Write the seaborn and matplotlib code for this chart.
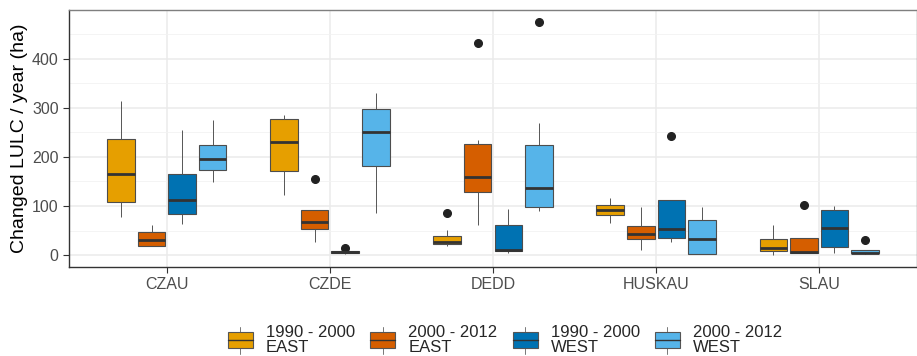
import numpy as np
import pandas as pd
import matplotlib
matplotlib.use("Agg")
import matplotlib.pyplot as plt
import seaborn as sns
from matplotlib.legend_handler import HandlerBase
from matplotlib.patches import Rectangle
from matplotlib.lines import Line2D

sites = ["CZAU", "CZDE", "DEDD", "HUSKAU", "SLAU"]
groups = ["1990 - 2000\nEAST", "2000 - 2012\nEAST", "1990 - 2000\nWEST", "2000 - 2012\nWEST"]
colors = ["#E69F00", "#D55E00", "#0072B2", "#56B4E9"]

# values per site, per group (ha / year)
czau_e90 = [78, 95, 109, 140, 165, 200, 237, 280, 314]
czau_e00 = [18, 18, 19, 25, 31, 40, 47, 55, 61]
czau_w90 = [64, 75, 84, 100, 113, 140, 165, 210, 255]
czau_w00 = [148, 160, 174, 185, 195, 210, 225, 250, 275]

czde_e90 = [122, 150, 172, 200, 231, 255, 277, 281, 285]
czde_e00 = [26, 45, 53, 60, 67, 80, 92, 92, 155]
czde_w90 = [3, 4, 5, 6, 7, 7, 8, 8, 14]
czde_w00 = [85, 140, 182, 220, 250, 280, 298, 315, 331]

dedd_e90 = [18, 20, 22, 25, 27, 33, 39, 51, 86]
dedd_e00 = [62, 100, 128, 145, 159, 200, 227, 235, 432]
dedd_w90 = [4, 6, 8, 9, 11, 40, 62, 80, 94]
dedd_w00 = [90, 95, 98, 120, 136, 180, 225, 270, 474]

huskau_e90 = [65, 75, 82, 88, 92.5, 97, 102, 110, 117]
huskau_e00 = [11, 25, 32, 38, 42.5, 50, 59, 80, 98.5]
huskau_w90 = [26, 30, 34, 45, 53, 90, 113, 113, 242]
huskau_w00 = [2, 2, 3, 15, 32, 50, 71.5, 85, 98.5]

slau_e90 = [1, 5, 8, 12, 15.5, 25, 32, 45, 61]
slau_e00 = [4, 4, 5, 6, 7.5, 20, 34, 34, 102]
slau_w90 = [4, 10, 17, 35, 55, 75, 92, 96, 100]
slau_w00 = [2, 3, 3.5, 4, 5.5, 8, 11, 11, 30]

table = {
    "CZAU": [czau_e90, czau_e00, czau_w90, czau_w00],
    "CZDE": [czde_e90, czde_e00, czde_w90, czde_w00],
    "DEDD": [dedd_e90, dedd_e00, dedd_w90, dedd_w00],
    "HUSKAU": [huskau_e90, huskau_e00, huskau_w90, huskau_w00],
    "SLAU": [slau_e90, slau_e00, slau_w90, slau_w00],
}
rows = []
for s in sites:
    for g, vals in zip(groups, table[s]):
        for v in vals:
            rows.append((s, g, v))
df = pd.DataFrame(rows, columns=["site", "group", "value"])

sns.set_theme(style="white")
plt.rcParams["font.family"] = ["Liberation Sans", "DejaVu Sans"]

fig = plt.figure(figsize=(9.17, 3.56), dpi=100)
ax = fig.add_axes([69/917, 1-267/356, 848/917, 257/356])

edge = "#333333"
sns.boxplot(data=df, x="site", y="value", hue="group", order=sites, hue_order=groups,
            palette=colors, saturation=1, width=0.75, gap=0.1, linewidth=0.8, linecolor=edge,
            boxprops={"edgecolor": "#4D4D4D", "linewidth": 0.8},
            medianprops={"linewidth": 2.0, "color": edge},
            whiskerprops={"linewidth": 0.7, "color": "#555555"},
            capprops={"linewidth": 0},
            flierprops={"marker": "o", "markersize": 5.5, "markerfacecolor": "#222222",
                        "markeredgecolor": "#222222"},
            ax=ax, legend=False, zorder=3)

ax.set_xlim(-0.6, 4.6)
ax.set_ylim(-24, 499)
ax.set_yticks([0, 100, 200, 300, 400])
ax.set_yticks([50, 150, 250, 350, 450], minor=True)
ax.grid(True, which="major", color="#EBEBEB", linewidth=1.1, zorder=0)
ax.grid(True, which="minor", axis="y", color="#F2F2F2", linewidth=0.6, zorder=0)
ax.set_axisbelow(True)
ax.set_xlabel("")
ax.set_ylabel("Changed LULC / year (ha)", fontsize=14, color="black", labelpad=3)
ax.tick_params(axis="both", which="major", labelsize=11.5, labelcolor="#4D4D4D",
               color="#333333", length=4, width=0.8, direction="out", bottom=True, left=True)
ax.tick_params(axis="both", which="minor", length=0)
for side, sp in ax.spines.items():
    sp.set_visible(True)
    sp.set_color("#333333" if side in ("bottom", "left") else "#7F7F7F")
    sp.set_linewidth(1.0)


class HandlerBox(HandlerBase):
    def __init__(self, color):
        super().__init__()
        self.color = color

    def create_artists(self, legend, orig_handle, xdescent, ydescent, width, height, fontsize, trans):
        cx = width / 2 - xdescent
        y0 = -ydescent
        h = height
        rect = Rectangle((-xdescent, y0), width, h,
                         facecolor=self.color, edgecolor="#555555", linewidth=0.8, transform=trans)
        med = Line2D([-xdescent, -xdescent + width], [y0 + h/2, y0 + h/2],
                     color="#333333", linewidth=1.0, transform=trans)
        w1 = Line2D([cx, cx], [y0 + h, y0 + h*1.35], color="#777777", linewidth=0.7, transform=trans)
        w2 = Line2D([cx, cx], [y0 - h*0.35, y0], color="#777777", linewidth=0.7, transform=trans)
        return [w1, w2, rect, med]


handles = [Rectangle((0, 0), 1, 1) for _ in groups]
hmap = {h: HandlerBox(c) for h, c in zip(handles, colors)}
leg = fig.legend(handles, groups, handler_map=hmap, loc="center", bbox_to_anchor=(505/917, 1-340/356),
                 ncol=4, frameon=False, fontsize=12, handlelength=1.5, handleheight=1.1,
                 handletextpad=0.8, columnspacing=0.9, labelspacing=0.2)
for t in leg.get_texts():
    t.set_linespacing(1.0)

fig.savefig("out.png", dpi=100)
